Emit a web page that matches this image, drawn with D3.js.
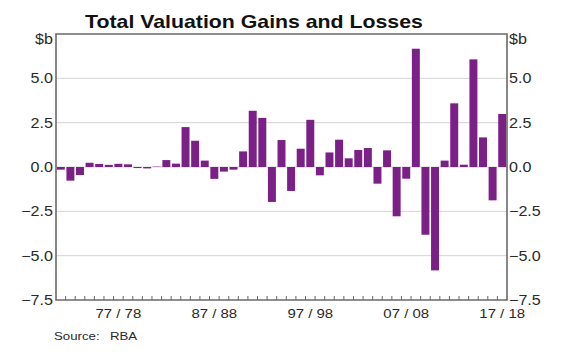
<!DOCTYPE html>
<html>
<head>
<meta charset="utf-8">
<script src="https://cdn.jsdelivr.net/npm/d3@7"></script>
<style>
  body { margin: 0; background: #fff; }
  text { font-family: "Liberation Sans", Arial, sans-serif; fill: #2a2a2a; }
</style>
</head>
<body>
<div id="main"></div>
<script>
const ctx = {
    w: 580,
    h: 352,
    left: 56,
    right: 507,
    top: 34,
    bottom: 300,
    stretch: 1.15,
};

// financial years 71/72 .. 17/18
const years = d3.range(1971, 2018).map(y => {
    const a = String(y % 100).padStart(2, "0");
    const b = String((y + 1) % 100).padStart(2, "0");
    return a + "/" + b;
});
const values = [
    -0.15, -0.77, -0.45, 0.24, 0.17, 0.12, 0.18, 0.15, -0.06, -0.08,
    0.02, 0.39, 0.19, 2.25, 1.48, 0.36, -0.67, -0.26, -0.15, 0.88,
    3.17, 2.77, -1.97, 1.52, -1.35, 1.03, 2.66, -0.47, 0.82, 1.54,
    0.49, 0.96, 1.07, -0.94, 0.94, -2.78, -0.66, 6.67, -3.82, -5.83,
    0.36, 3.59, 0.13, 6.07, 1.67, -1.88, 2.99
];
const yTicks = [-7.5, -5, -2.5, 0, 2.5, 5];
const xLabels = ["77/78", "87/88", "97/98", "07/08", "17/18"];

// the original is a little wider than the font, stretch every label
function widenText(svg) {
    svg.selectAll("text").each(function() {
        const len = this.getComputedTextLength();
        d3.select(this)
          .attr("textLength", len * ctx.stretch)
          .attr("lengthAdjust", "spacingAndGlyphs");
    });
}

function createChart(svg) {
    let x = d3.scaleBand()
        .domain(years)
        .range([ctx.left, ctx.right])
        .paddingInner(0.17)
        .paddingOuter(0.085);
    let y = d3.scaleLinear()
        .domain([-7.5, 7.5])
        .range([ctx.bottom, ctx.top]);
    const fmt = d3.format(".1f");

    // gridlines
    svg.append("g").selectAll("line")
        .data(yTicks.filter(t => t != -7.5))
        .enter().append("line")
        .attr("x1", ctx.left).attr("x2", ctx.right)
        .attr("y1", d => y(d)).attr("y2", d => y(d))
        .style("stroke", "#d4d4d4")
        .style("stroke-width", 1);

    // bars
    svg.append("g").selectAll("rect")
        .data(values)
        .enter().append("rect")
        .attr("x", (d, i) => x(years[i]))
        .attr("width", x.bandwidth())
        .attr("y", d => y(Math.max(0, d)))
        .attr("height", d => Math.abs(y(d) - y(0)))
        .style("fill", "#7a2086");

    // year ticks between bars
    const step = x.step();
    svg.append("g").selectAll("line")
        .data(years.slice(1))
        .enter().append("line")
        .attr("x1", d => x(d) - step * 0.085).attr("x2", d => x(d) - step * 0.085)
        .attr("y1", ctx.bottom).attr("y2", ctx.bottom - 4)
        .style("stroke", "#666")
        .style("stroke-width", 1);

    // frame
    svg.append("path")
        .attr("d", `M${ctx.left},${ctx.bottom}V${ctx.top}H${ctx.right}V${ctx.bottom}Z`)
        .style("fill", "none")
        .style("stroke", "#6a6a6a")
        .style("stroke-width", 1.6);

    // y labels both sides
    svg.append("g").selectAll("text")
        .data(yTicks)
        .enter().append("text")
        .attr("x", ctx.left - 3)
        .attr("y", d => y(d))
        .attr("dy", "0.36em")
        .attr("text-anchor", "end")
        .style("font-size", "14px")
        .text(d => fmt(d));
    svg.append("g").selectAll("text")
        .data(yTicks)
        .enter().append("text")
        .attr("x", ctx.right + 2)
        .attr("y", d => y(d))
        .attr("dy", "0.36em")
        .style("font-size", "14px")
        .text(d => fmt(d));
    svg.append("text")
        .attr("x", ctx.left - 3).attr("y", ctx.top + 5)
        .attr("dy", "0.36em")
        .attr("text-anchor", "end")
        .style("font-size", "14px")
        .text("$b");
    svg.append("text")
        .attr("x", ctx.right + 2).attr("y", ctx.top + 5)
        .attr("dy", "0.36em")
        .style("font-size", "14px")
        .text("$b");

    // x labels
    svg.append("g").selectAll("text")
        .data(xLabels)
        .enter().append("text")
        .attr("x", d => x(d) + x.bandwidth() / 2)
        .attr("y", 318)
        .attr("text-anchor", "middle")
        .style("font-size", "13px")
        .text(d => d.replace("/", " / "));

    // title
    svg.append("text")
        .attr("x", 254).attr("y", 28)
        .attr("text-anchor", "middle")
        .style("font-size", "18.5px")
        .style("font-weight", "bold")
        .style("fill", "#111")
        .text("Total Valuation Gains and Losses");

    // source
    svg.append("text")
        .attr("x", 54).attr("y", 340)
        .style("font-size", "11.5px")
        .text("Source:");
    svg.append("text")
        .attr("x", 110).attr("y", 340)
        .style("font-size", "11.5px")
        .text("RBA");

    widenText(svg);
}

function createViz() {
    let svgEl = d3.select("#main").append("svg");
    svgEl.attr("width", ctx.w);
    svgEl.attr("height", ctx.h);
    createChart(svgEl);
}

createViz();
</script>
</body>
</html>
